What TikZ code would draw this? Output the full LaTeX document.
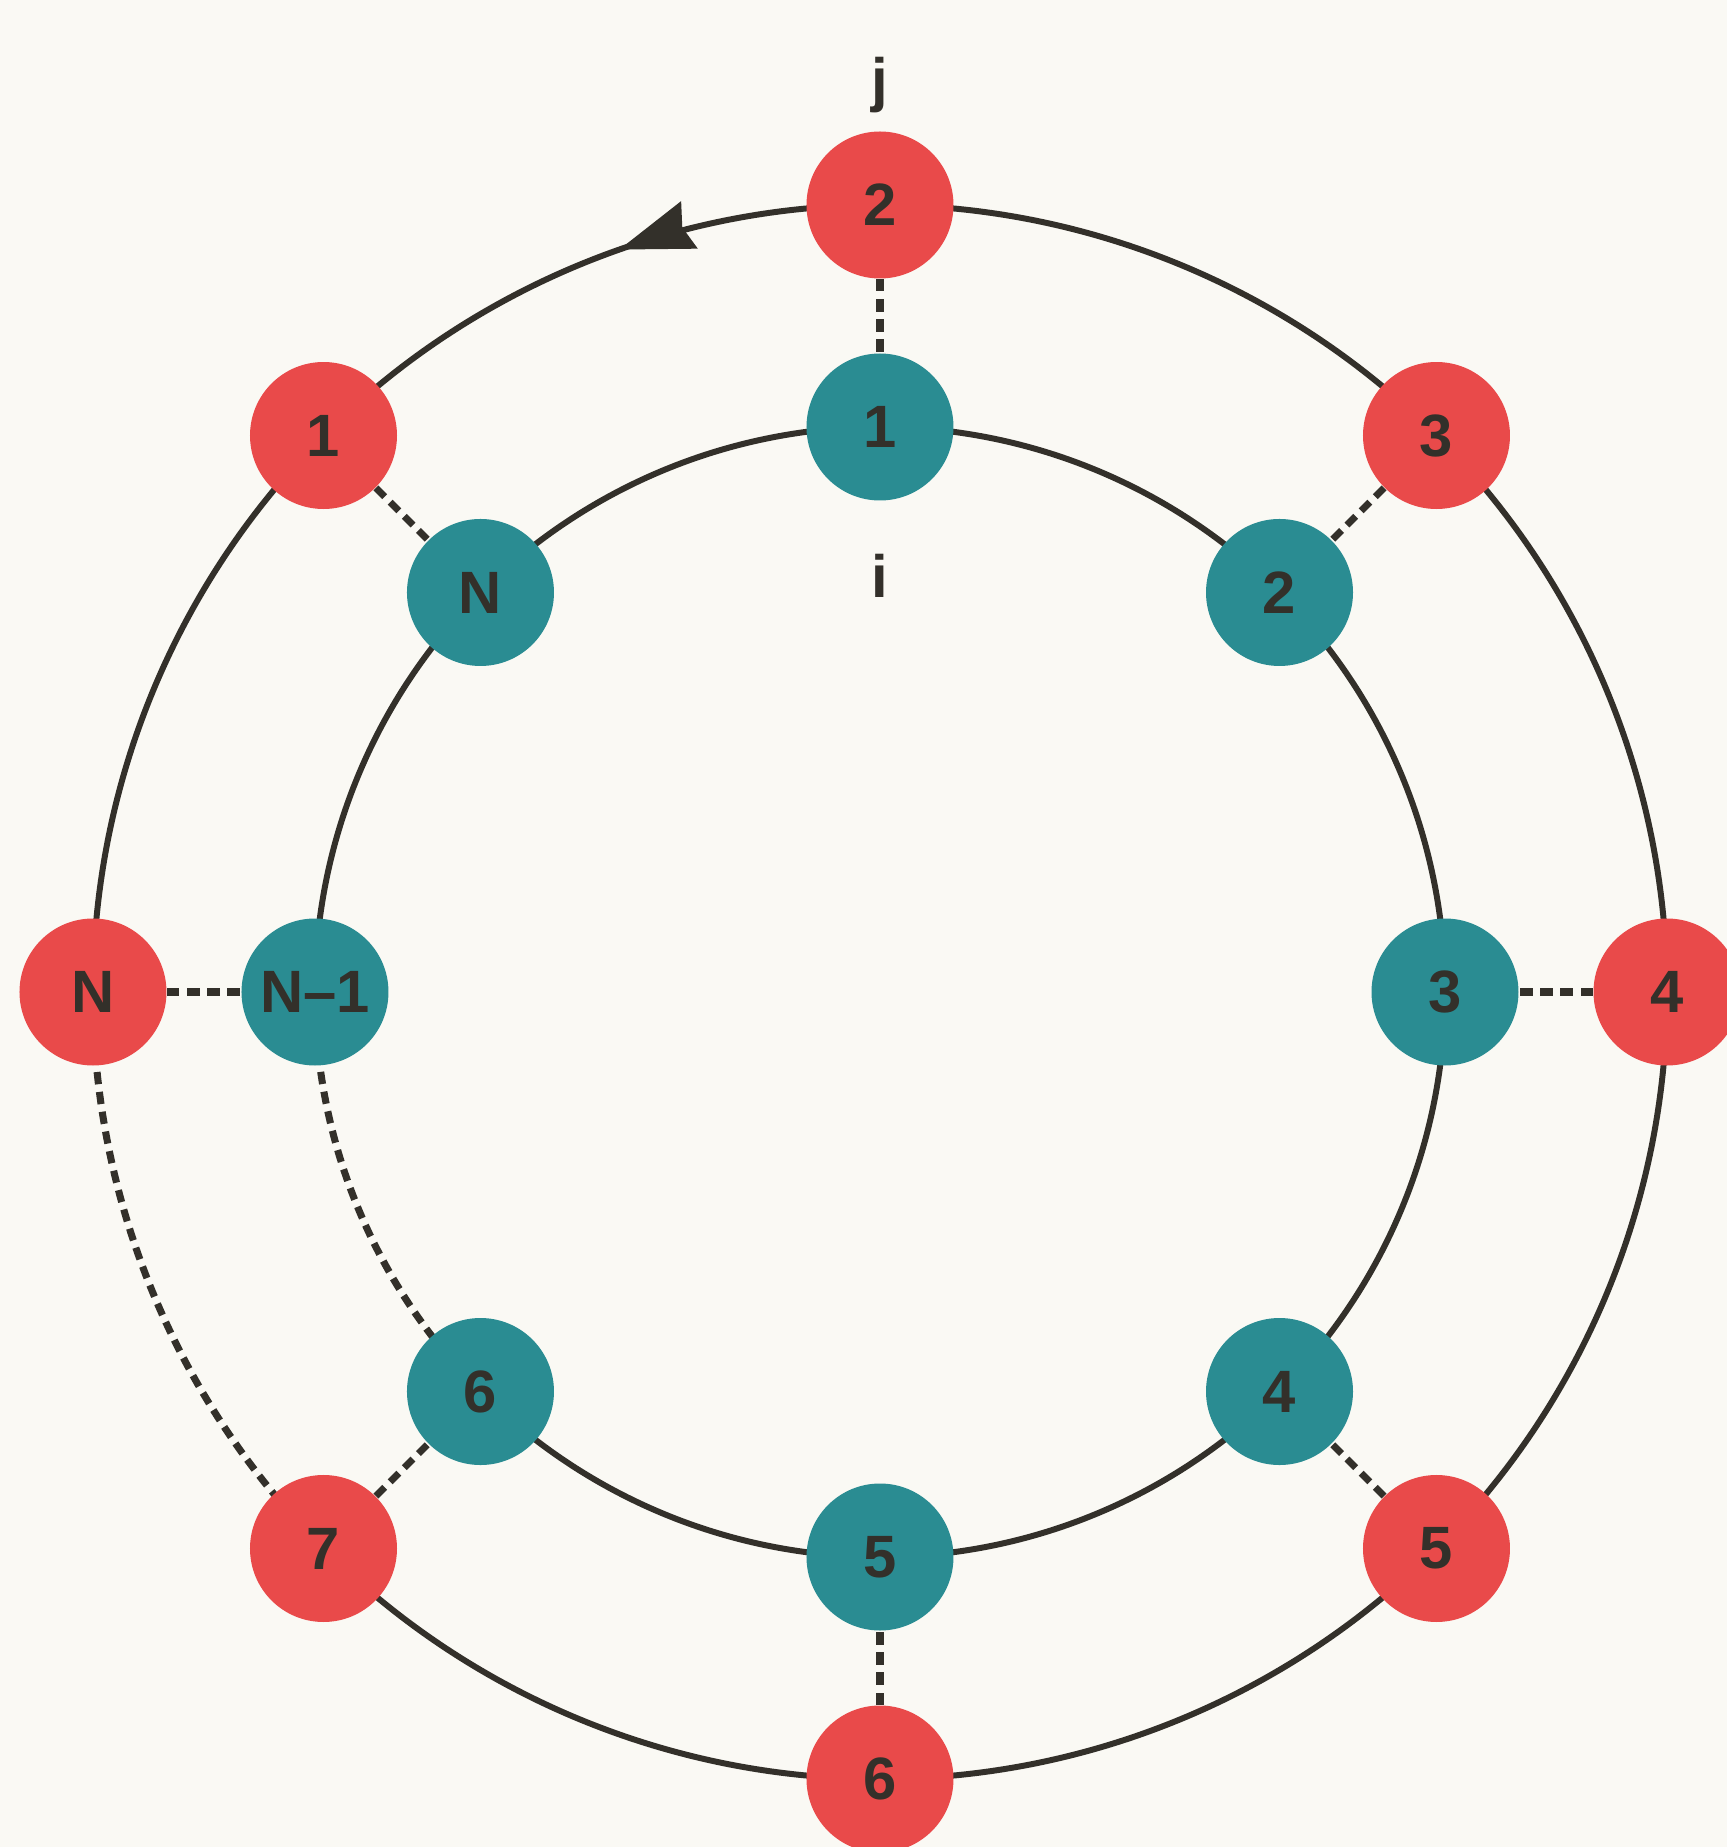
\documentclass[tikz,border=0pt]{standalone}
\usepackage{fontspec}
\setmainfont{Liberation Sans}
\usetikzlibrary{arrows.meta,positioning,backgrounds,decorations.markings}
\definecolor{ringred}{HTML}{E94A4A}
\definecolor{ringteal}{HTML}{2A8C92}
\definecolor{ringink}{HTML}{33302A}
\definecolor{ringpaper}{HTML}{FAF9F4}
\tikzset{
  bead/.style={circle, minimum size=1.47cm, inner sep=0pt, font=\fontsize{17}{17}\selectfont\bfseries, text=ringink},
  outr/.style={bead, fill=ringred},
  innr/.style={bead, fill=ringteal},
  ring/.style={line width=1.7pt, color=ringink},
  dsh/.style={ring, line width=2pt, dash pattern=on 3.5pt off 2.2pt},
  lbl/.style={font=\fontsize{17}{17}\selectfont\bfseries, text=ringink, inner sep=0pt},
  arc/.style={bend right=22.5, looseness=0.885},
}

\begin{document}
\begin{tikzpicture}
    \useasboundingbox (-8.80,-8.55) rectangle (8.47,9.92);
    % outer ring (red) and inner ring (teal)
    \foreach \nm/\ang/\tx in {o2/90/2, o3/45/3, o4/0/4, o5/-45/5, o6/-90/6, o7/-135/7, oN/180/N, o1/135/1}
      \node[outr] (\nm) at (\ang:7.87) {\tx};
    \foreach \nm/\ang/\tx in {i1/90/1, i2/45/2, i3/0/3, i4/-45/4, i5/-90/5, i6/-135/6, iM/180/N--1, iN/135/N}
      \node[innr] (\nm) at (\ang:5.65) {\tx};
    \begin{pgfonlayer}{background}
      \fill[ringpaper] (-8.80,-8.55) rectangle (8.47,9.92);
      \draw[ring, postaction={decorate, decoration={markings, mark=at position 0.43 with {\arrow{Stealth[length=21pt, width=14pt, inset=2pt]}}}}]
        (o2.center) to[arc] (o1.center);
      \foreach \a/\b in {o1/oN, o7/o6, o6/o5, o5/o4, o4/o3, o3/o2}
        \draw[ring] (\a.center) to[arc] (\b.center);
      \draw[dsh] (oN.center) to[arc] (o7.center);
      \foreach \a/\b in {i1/iN, iN/iM, i6/i5, i5/i4, i4/i3, i3/i2, i2/i1}
        \draw[ring] (\a.center) to[arc] (\b.center);
      \draw[dsh] (iM.center) to[arc] (i6.center);
    \end{pgfonlayer}
    \foreach \a/\b in {o2/i1, o3/i2, o4/i3, o5/i4, o6/i5, o7/i6, oN/iM, o1/iN}
      \draw[dsh] (\a) -- (\b);
    \node[lbl, above=0.17cm of o2] (lj) {j};
    \node[lbl, below=0.52cm of i1] (li) {i};
\end{tikzpicture}
\end{document}
